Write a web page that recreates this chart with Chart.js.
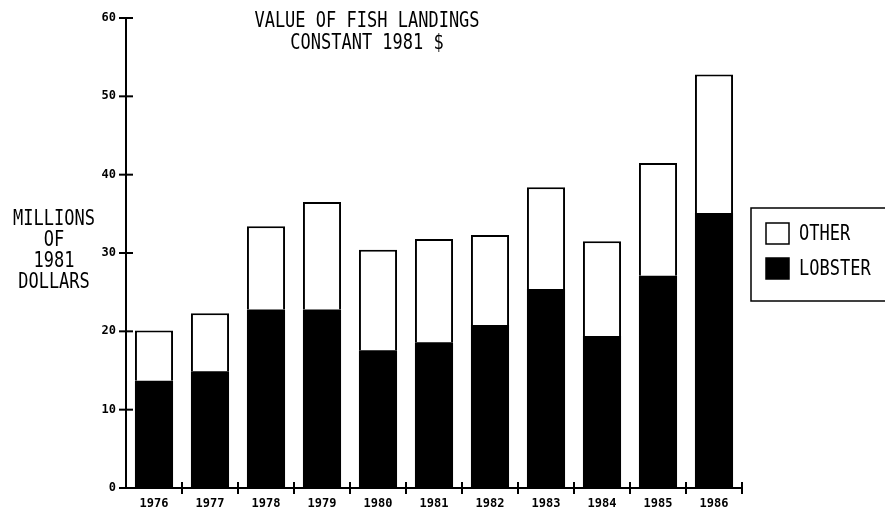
<!DOCTYPE html>
<html>
<head>
<meta charset="utf-8">
<script src="https://cdn.jsdelivr.net/npm/chart.js@4"></script>
<style>
  html, body { margin: 0; padding: 0; background: #fff; }
  #wrap { width: 885px; height: 508px; position: relative; }
</style>
</head>
<body>
<div id="wrap"><canvas id="fish"></canvas></div>
<script>
// values (millions of 1981 dollars)
const years   = ['1976', '1977', '1978', '1979', '1980', '1981', '1982', '1983', '1984', '1985', '1986'];
const lobster = [13.7, 14.9, 22.8, 22.8, 17.6, 18.6, 20.8, 25.4, 19.4, 27.1, 35.1];
const other   = [6.4, 7.4, 10.6, 13.7, 12.8, 13.2, 11.5, 13.0, 12.1, 14.4, 17.7];
const yTicks  = [0, 10, 20, 30, 40, 50, 60];
const titleLines = ['VALUE OF FISH LANDINGS', 'CONSTANT 1981 $'];
const yTitleLines = ['MILLIONS', 'OF', '1981', 'DOLLARS'];

const MONO = '"DejaVu Sans Mono", "Liberation Mono", monospace';

// tall, narrow plotter-style text
function tallText(ctx, txt, x, y, size, align) {
    ctx.save();
    ctx.translate(x, y);
    ctx.scale(1, 1.25);
    ctx.font = size + 'px ' + MONO;
    ctx.textAlign = align || 'center';
    ctx.textBaseline = 'middle';
    ctx.fillStyle = '#000';
    ctx.fillText(txt, 0, 0);
    ctx.restore();
}

const decor = {
    id: 'decor',
    afterDraw(chart) {
        const ctx = chart.ctx;
        const xs = chart.scales.x, ys = chart.scales.y;
        const area = chart.chartArea;
        ctx.save();
        ctx.strokeStyle = '#000';
        ctx.lineWidth = 2;

        // y tick marks crossing the axis
        yTicks.forEach(v => {
            const py = ys.getPixelForValue(v);
            ctx.beginPath();
            ctx.moveTo(area.left - 7, py);
            ctx.lineTo(area.left + 7, py);
            ctx.stroke();
        });
        // x tick marks at category boundaries
        for (let i = 1; i <= years.length; i++) {
            const px = (xs.getPixelForValue(i - 1) + xs.getPixelForValue(i)) / 2;
            const bx = i === years.length ? area.right : px;
            ctx.beginPath();
            ctx.moveTo(bx, area.bottom - 6);
            ctx.lineTo(bx, area.bottom + 6);
            ctx.stroke();
        }

        // titles
        tallText(ctx, titleLines[0], 367, 21, 17);
        tallText(ctx, titleLines[1], 367, 43, 17);
        yTitleLines.forEach((t, i) => tallText(ctx, t, 54, 219 + i * 21, 17));

        // legend
        ctx.lineWidth = 1.5;
        ctx.strokeRect(751, 208, 150, 93);
        const items = [chart.data.datasets[1], chart.data.datasets[0]];
        items.forEach((ds, i) => {
            const y0 = 223 + i * 35;
            ctx.fillStyle = ds.backgroundColor;
            ctx.fillRect(766, y0, 23, 21);
            ctx.strokeRect(766, y0, 23, 21);
            tallText(ctx, ds.label, 799, y0 + 11, 17, 'left');
        });
        ctx.restore();
    }
};

new Chart(document.getElementById('fish'), {
    type: 'bar',
    data: {
        labels: years,
        datasets: [
            { label: 'LOBSTER', data: lobster, backgroundColor: '#000', borderColor: '#000', borderWidth: 0 },
            { label: 'OTHER', data: other, backgroundColor: '#fff', borderColor: '#000', borderWidth: 2 }
        ]
    },
    options: {
        responsive: true,
        maintainAspectRatio: false,
        animation: false,
        devicePixelRatio: 1,
        layout: { padding: { left: 0, right: 143, top: 18, bottom: 0 } },
        plugins: { legend: { display: false }, title: { display: false }, tooltip: { enabled: false } },
        datasets: { bar: { barPercentage: 0.68, categoryPercentage: 1 } },
        scales: {
            x: {
                stacked: true,
                grid: { display: false },
                border: { display: true, color: '#000', width: 2 },
                ticks: { color: '#000', padding: 1, maxRotation: 0, font: { family: MONO, size: 12, weight: 'bold' } },
                afterFit(s) { s.height = 20; }
            },
            y: {
                stacked: true,
                min: 0, max: 60,
                grid: { display: false },
                border: { display: true, color: '#000', width: 2 },
                ticks: { stepSize: 10, color: '#000', padding: 2, font: { family: MONO, size: 12, weight: 'bold' } },
                afterFit(s) { s.width = 126; }
            }
        }
    },
    plugins: [decor]
});
</script>
</body>
</html>
